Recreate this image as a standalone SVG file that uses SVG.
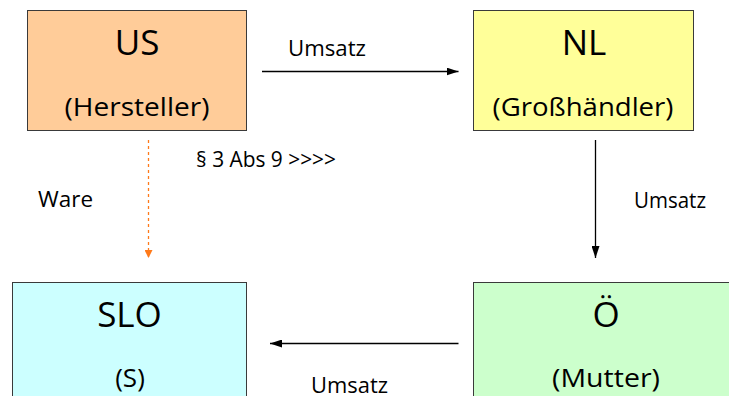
<svg xmlns="http://www.w3.org/2000/svg" width="729" height="396" viewBox="0 0 729 396">
<defs>
<style>
.box{stroke:#3a3a3a;stroke-width:1}
.big{font-family:"Open Sans","Liberation Sans",sans-serif;font-size:35px;fill:#000;text-anchor:middle}
.sub{font-family:"Open Sans","Liberation Sans",sans-serif;font-size:26px;fill:#000;text-anchor:middle}
.lbl{font-family:"Open Sans","Liberation Sans",sans-serif;font-size:22px;fill:#000}
.con{stroke:#000;stroke-width:1.3;fill:none}
.ware{stroke:#ff7a1a;stroke-width:1.3;fill:none;stroke-dasharray:3 3}
</style>
<marker id="ah" viewBox="0 0 12 8" refX="12" refY="4" markerWidth="12" markerHeight="8" markerUnits="userSpaceOnUse" orient="auto">
<path d="M0,0 L12,4 L0,8 z" fill="#000"/>
</marker>
<marker id="ahO" viewBox="0 0 8 8" refX="8" refY="4" markerWidth="8" markerHeight="8" markerUnits="userSpaceOnUse" orient="auto">
<path d="M0,0 L8,4 L0,8 z" fill="#ff7a1a"/>
</marker>
</defs>
<rect width="729" height="396" fill="#fff"/>
<g id="US">
<rect class="box" x="27.5" y="10.5" width="219" height="120" fill="#ffcc99"/>
<text class="big" x="137" y="55">US</text>
<text class="sub" x="137" y="116" textLength="145" lengthAdjust="spacingAndGlyphs">(Hersteller)</text>
</g>
<g id="NL">
<rect class="box" x="473.5" y="10.5" width="220" height="120" fill="#ffff99"/>
<text class="big" x="584" y="55">NL</text>
<text class="sub" x="583" y="116" textLength="181" lengthAdjust="spacingAndGlyphs">(Großhändler)</text>
</g>
<g id="SLO">
<rect class="box" x="12.5" y="282.5" width="234" height="130" fill="#ccffff"/>
<text class="big" x="129.5" y="327">SLO</text>
<text class="sub" x="130" y="387">(S)</text>
</g>
<g id="OE">
<rect class="box" x="473.5" y="282.5" width="270" height="130" fill="#ccffcc"/>
<text class="big" x="606" y="327">Ö</text>
<text class="sub" x="606" y="387" textLength="108" lengthAdjust="spacingAndGlyphs">(Mutter)</text>
</g>
<g id="connectors">
<line class="con" x1="262" y1="71.5" x2="458.5" y2="71.5" marker-end="url(#ah)"/>
<line class="con" x1="595.5" y1="140" x2="595.5" y2="258" marker-end="url(#ah)"/>
<line class="con" x1="458.5" y1="343.5" x2="270" y2="343.5" marker-end="url(#ah)"/>
<line class="ware" x1="148.5" y1="140" x2="148.5" y2="258" marker-end="url(#ahO)"/>
</g>
<g id="labels">
<text class="lbl" x="288" y="56" textLength="78" lengthAdjust="spacingAndGlyphs">Umsatz</text>
<text class="lbl" x="634" y="208" textLength="72" lengthAdjust="spacingAndGlyphs">Umsatz</text>
<text class="lbl" x="311" y="393" textLength="77" lengthAdjust="spacingAndGlyphs">Umsatz</text>
<text class="lbl" x="38" y="207" textLength="55" lengthAdjust="spacingAndGlyphs">Ware</text>
<text class="lbl" x="196" y="167" font-size="21" textLength="140" lengthAdjust="spacingAndGlyphs">§ 3 Abs 9 &gt;&gt;&gt;&gt;</text>
</g>
</svg>
